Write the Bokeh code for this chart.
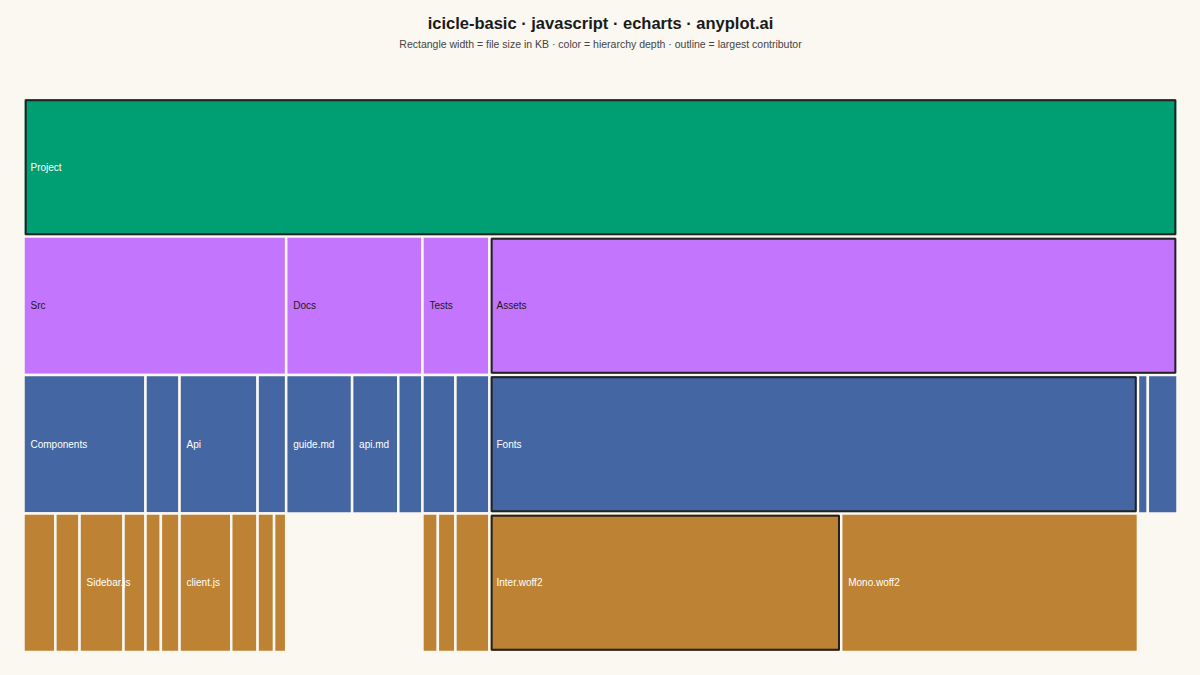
from bokeh.plotting import figure
from bokeh.models import Range1d, ColumnDataSource
from bokeh.core.properties import value
from bokeh.embed import file_html
from bokeh.resources import INLINE

# ---------------- data (sizes in KB) ----------------
root_name = "Project"
components_files = ["Button.js", "Header.js", "Sidebar.js", "Modal.js"]
components_kb = [29, 22, 40, 20]
utils_files = ["format.js", "helpers.js"]
utils_kb = [14, 17]
api_files = ["client.js", "auth.js"]
api_kb = [47, 24]
hooks_files = ["useData.js", "useAuth.js"]
hooks_kb = [15, 11]
docs_files = ["guide.md", "api.md", "faq.md"]
docs_kb = [60, 42, 22]
unit_files = ["app.test.js", "api.test.js"]
unit_kb = [14, 16]
e2e_files = ["flows.spec.js"]
e2e_kb = [31]
fonts_files = ["Inter.woff2", "Mono.woff2"]
fonts_kb = [320, 270]
icons_kb = 9
images_kb = 27

depth_colors = ["#009E73", "#C475FD", "#4467A3", "#BD8233"]
label_colors = ["#FFFFFF", "#1A1A1A", "#FFFFFF", "#FFFFFF"]
BG = "#FAF8F1"


def leaves(names, sizes):
    return [{"name": n, "value": v} for n, v in zip(names, sizes)]


tree = {"name": root_name, "children": [
    {"name": "Src", "children": [
        {"name": "Components", "children": leaves(components_files, components_kb)},
        {"name": "Utils", "children": leaves(utils_files, utils_kb)},
        {"name": "Api", "children": leaves(api_files, api_kb)},
        {"name": "Hooks", "children": leaves(hooks_files, hooks_kb)},
    ]},
    {"name": "Docs", "children": leaves(docs_files, docs_kb)},
    {"name": "Tests", "children": [
        {"name": "Unit", "children": leaves(unit_files, unit_kb)},
        {"name": "E2E", "children": leaves(e2e_files, e2e_kb)},
    ]},
    {"name": "Assets", "children": [
        {"name": "Fonts", "children": leaves(fonts_files, fonts_kb)},
        {"name": "Icons", "value": icons_kb},
        {"name": "Images", "value": images_kb},
    ]},
]}


def total(node):
    if "value" in node:
        return node["value"]
    return sum(total(c) for c in node["children"])


rects = []


def layout(node, x0, depth, hl):
    v = total(node)
    rects.append(dict(name=node["name"], depth=depth, x0=x0, x1=x0 + v, hl=hl))
    if "children" in node:
        kids = node["children"]
        big = max(kids, key=total) if hl else None
        x = x0
        for c in kids:
            layout(c, x, depth + 1, hl and (c is big))
            x += total(c)


layout(tree, 0, 0, True)
TOTAL = total(tree)

# ---------------- geometry ----------------
W, H = 1200, 675
AREA_LEFT, AREA_W = 23, 1154     # canvas px of the icicle area
TOP0, PITCH = 97.5, 138.5        # canvas px of first row top, row pitch
k = AREA_W / TOTAL               # px per KB

x_range = Range1d(-AREA_LEFT / k, TOTAL + (W - AREA_LEFT - AREA_W) / k)
y_range = Range1d(start=(H - TOP0) / PITCH, end=-TOP0 / PITCH)

p = figure(width=W, height=H, x_range=x_range, y_range=y_range,
           x_axis_type=None, y_axis_type=None, toolbar_location=None,
           output_backend="svg", min_border=0,
           background_fill_color=BG, border_fill_color=BG,
           outline_line_color=None)

src = ColumnDataSource(dict(
    left=[r["x0"] for r in rects],
    right=[r["x1"] for r in rects],
    top=[r["depth"] for r in rects],
    bottom=[r["depth"] + 1 for r in rects],
    fill=[depth_colors[r["depth"]] for r in rects],
))
p.quad(left="left", right="right", top="top", bottom="bottom", source=src,
       fill_color="fill", line_color=BG, line_width=2.5)

hl = [r for r in rects if r["hl"]]
dx, dy = 2.2 / k, 2.2 / PITCH
p.quad(left=[r["x0"] + dx for r in hl], right=[r["x1"] - dx for r in hl],
       top=[r["depth"] + dy for r in hl], bottom=[r["depth"] + 1 - dy for r in hl],
       fill_color=None, line_color="#222222", line_width=2)

lab = [r for r in rects if (r["x1"] - r["x0"]) * k >= 40]
p.text(x=[r["x0"] for r in lab], y=[r["depth"] + 0.5 for r in lab],
       text=[r["name"] for r in lab],
       text_color=[label_colors[r["depth"]] for r in lab],
       x_offset=7, text_align="left", text_baseline="middle",
       text_font=value("Liberation Sans"), text_font_size="10px")

# titles
p.text(x=[TOTAL / 2], y=[(22 - TOP0) / PITCH],
       text=["icicle-basic · javascript · echarts · anyplot.ai"],
       text_align="center", text_baseline="middle", text_color="#1A1A1A",
       text_font=value("Liberation Sans"), text_font_style="bold",
       text_font_size="16.5px")
p.text(x=[TOTAL / 2], y=[(43 - TOP0) / PITCH],
       text=["Rectangle width = file size in KB · color = hierarchy depth · outline = largest contributor"],
       text_align="center", text_baseline="middle", text_color="#444444",
       text_font=value("Liberation Sans"), text_font_size="10.5px")

html = file_html(p, INLINE)
html = html.replace("<body>", '<body style="background:%s;">' % BG)
open("out.html", "w").write(html)
